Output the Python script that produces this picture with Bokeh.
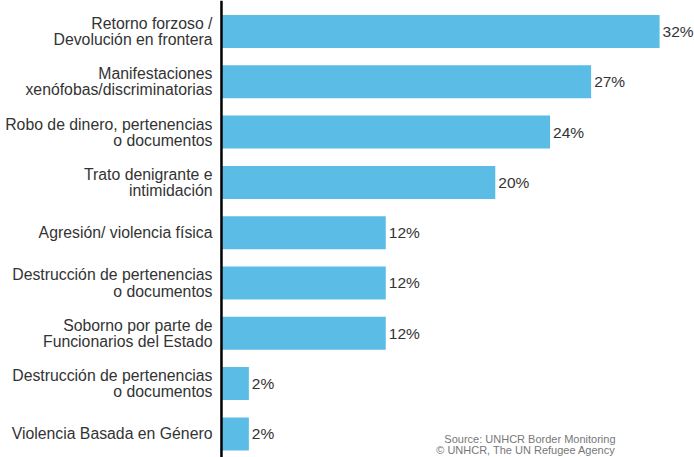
from bokeh.plotting import figure
from bokeh.models import ColumnDataSource, Range1d, Span, Label
from bokeh.core.properties import value
from bokeh.embed import file_html
from bokeh.resources import INLINE

categories = [
    "Retorno forzoso /\nDevolución en frontera",
    "Manifestaciones\nxenófobas/discriminatorias",
    "Robo de dinero, pertenencias\no documentos",
    "Trato denigrante e\nintimidación",
    "Agresión/ violencia física",
    "Destrucción de pertenencias\no documentos",
    "Soborno por parte de\nFuncionarios del Estado",
    "Destrucción de pertenencias\no documentos",
    "Violencia Basada en Género",
]
values = [32, 27, 24, 20, 12, 12, 12, 2, 2]
value_labels = ["32%", "27%", "24%", "20%", "12%", "12%", "12%", "2%", "2%"]
source_lines = ["Source: UNHCR Border Monitoring", "© UNHCR, The UN Refugee Agency"]

FONT = "Liberation Sans"
BAR = "#5BBDE6"
TXT = "#333333"

positions = list(range(len(categories)))
src = ColumnDataSource(dict(y=positions, v=values, cat=categories, lab=value_labels))

p = figure(width=694, height=457, output_backend="svg", toolbar_location=None,
           x_range=Range1d(-16.14, 34.55), y_range=Range1d(8.469, -0.616),
           x_axis_location=None, y_axis_location=None, min_border=0)
p.grid.visible = False
p.outline_line_color = None
p.background_fill_color = "white"
p.border_fill_color = "white"

p.hbar(y="y", right="v", left=0, height=0.656, source=src, color=BAR, line_color=None)

p.text(x=0, y="y", text="cat", source=src, x_offset=-9, text_align="right",
       text_baseline="middle", text_line_height=0.95, text_font=value(FONT),
       text_font_size="15.8px", text_color=TXT)

p.text(x="v", y="y", text="lab", source=src, x_offset=3, text_align="left",
       text_baseline="middle", text_font=value(FONT), text_font_size="15.5px",
       text_color=TXT)

p.add_layout(Span(location=0, dimension="height", line_color="black", line_width=2.5))

p.add_layout(Label(x=28.78, y=8.092, text=source_lines[0], text_align="right",
                   text_baseline="alphabetic", text_font=FONT, text_font_size="11px",
                   text_color="#777777"))
p.add_layout(Label(x=28.78, y=8.311, text=source_lines[1], text_align="right",
                   text_baseline="alphabetic", text_font=FONT, text_font_size="11px",
                   text_color="#777777"))

open("out.html", "w").write(file_html(p, INLINE))
